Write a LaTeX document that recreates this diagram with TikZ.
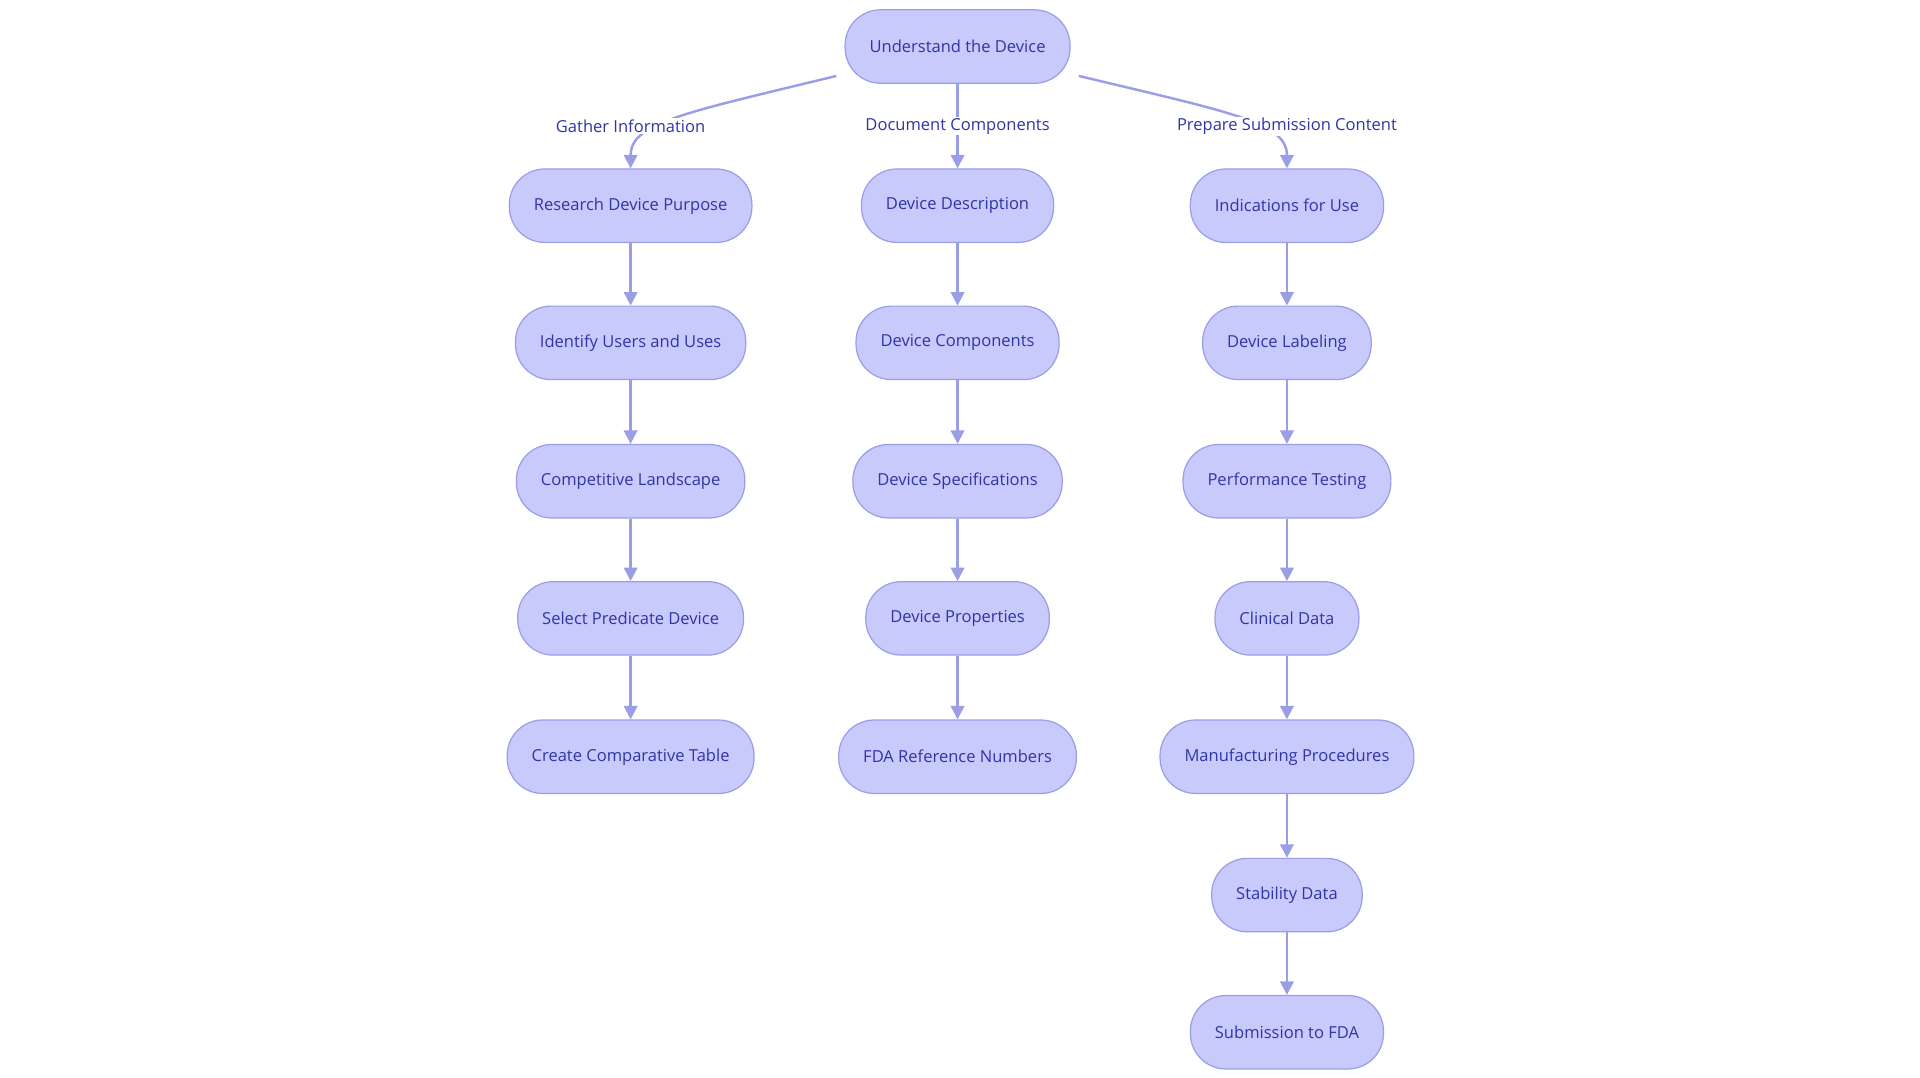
\documentclass[tikz,border=0pt]{standalone}
\usepackage{fontspec}
\setmainfont{Open Sans}
\usetikzlibrary{arrows.meta}
\definecolor{nfill}{HTML}{C8CAFC}
\definecolor{nline}{HTML}{9A9EE6}
\definecolor{ntext}{HTML}{3035A6}
\tikzset{
 box/.style={draw=nline,fill=nfill,line width=1pt,rounded corners=29pt,minimum height=60pt,inner xsep=20pt,text=ntext,font=\fontsize{13.5}{16}\selectfont},
 conn/.style={draw=nline,line width=2pt,-{Triangle[length=11pt,width=11pt]}},
 lbl/.style={fill=white,text=ntext,font=\fontsize{13.5}{16}\selectfont,inner sep=1pt}
}
\begin{document}
\begin{tikzpicture}[x=1pt,y=-1pt]
\useasboundingbox (0,0) rectangle (1568,880);
\node[box] (u) at (782,38) {Understand the Device};
\foreach \n/\x/\y/\t in {a1/515/168/Research Device Purpose,a2/515/280/Identify Users and Uses,a3/515/393/Competitive Landscape,a4/515/505/Select Predicate Device,a5/515/618/Create Comparative Table,
 b1/782/168/Device Description,b2/782/280/Device Components,b3/782/393/Device Specifications,b4/782/505/Device Properties,b5/782/618/FDA Reference Numbers,
 c1/1051/168/Indications for Use,c2/1051/280/Device Labeling,c3/1051/393/Performance Testing,c4/1051/505/Clinical Data,c5/1051/618/Manufacturing Procedures,c6/1051/731/Stability Data,c7/1051/843/Submission to FDA}
 \node[box] (\n) at (\x,\y) {\t};
\coordinate (ul) at (683,62);
\coordinate (ur) at (881,62);
\draw[conn] (ul) .. controls (560,92) and (515,100) .. (a1.north);
\draw[conn] (ur) .. controls (1006,92) and (1051,100) .. (c1.north);
\draw[conn] (u.south) -- (b1.north);
\node[lbl] (l1) at (515,103) {Gather Information};
\node[lbl] (l2) at (782,103) {Document Components};
\node[lbl] (l3) at (1051,103) {Prepare Submission Content};
\foreach \a/\b in {a1/a2,a2/a3,a3/a4,a4/a5,b1/b2,b2/b3,b3/b4,b4/b5,c1/c2,c2/c3,c3/c4,c4/c5,c5/c6,c6/c7}
 \draw[conn] (\a) -- (\b);
\end{tikzpicture}
\end{document}
